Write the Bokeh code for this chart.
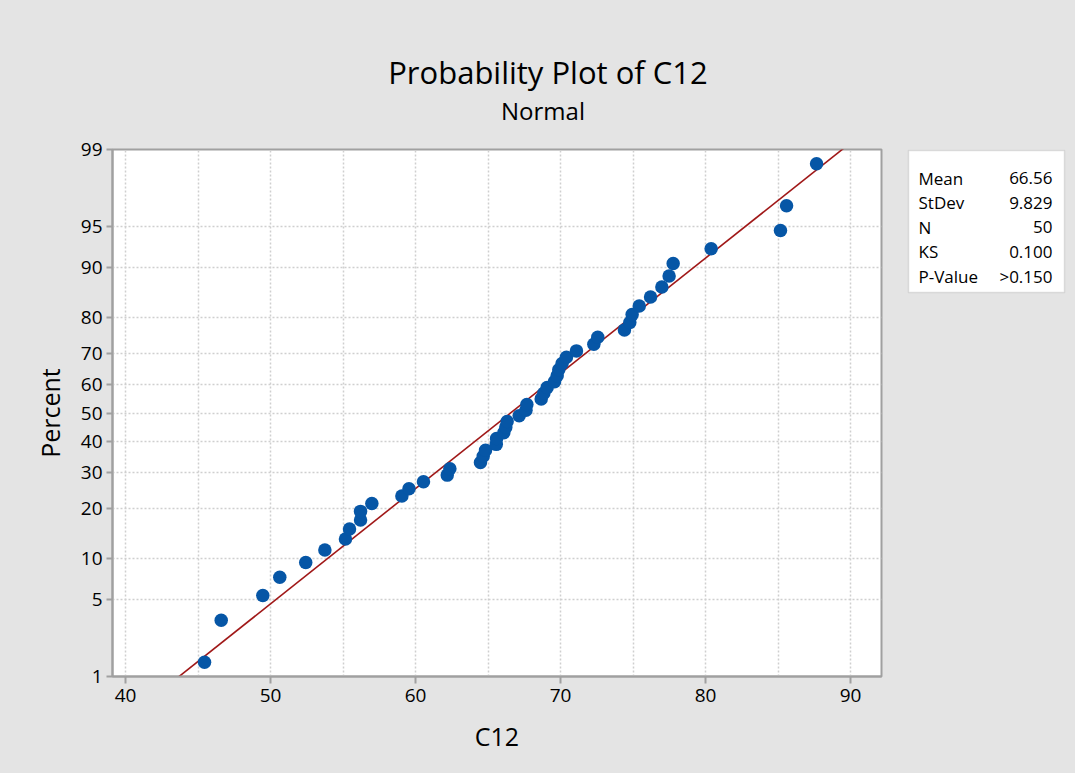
from statistics import NormalDist
from bokeh.plotting import figure
from bokeh.models import Range1d, FixedTicker, Label, BoxAnnotation
from bokeh.layouts import column, row
from bokeh.embed import file_html
from bokeh.resources import INLINE

# ---- data ----
c12_values = [45.45, 46.60, 49.47, 50.64, 52.43, 53.75, 55.17, 55.45, 56.21, 56.21,
              56.99, 59.06, 59.55, 60.55, 62.19, 62.37, 64.48, 64.67, 64.83, 65.57,
              65.59, 66.09, 66.23, 66.32, 67.15, 67.62, 67.68, 68.67, 68.85, 69.08,
              69.59, 69.77, 69.88, 70.11, 70.41, 71.10, 72.30, 72.57, 74.41, 74.78,
              74.94, 75.43, 76.21, 76.99, 77.49, 77.77, 80.39, 85.17, 85.59, 87.66]
percent_values = [1.39, 3.37, 5.36, 7.34, 9.33, 11.31, 13.29, 15.28, 17.26, 19.25,
                  21.23, 23.21, 25.20, 27.18, 29.17, 31.15, 33.13, 35.12, 37.10, 39.09,
                  41.07, 43.06, 45.04, 47.02, 49.01, 50.99, 52.98, 54.96, 56.94, 58.93,
                  60.91, 62.90, 64.88, 66.87, 68.85, 70.83, 72.82, 74.80, 76.79, 78.77,
                  80.75, 82.74, 84.72, 86.71, 88.69, 90.67, 92.66, 94.64, 96.63, 98.61]
y_tick_percents = [1, 5, 10, 20, 30, 40, 50, 60, 70, 80, 90, 95, 99]
x_tick_values = [40, 50, 60, 70, 80, 90]
x_grid_values = [40, 45, 50, 55, 60, 65, 70, 75, 80, 85, 90]
stat_names = ["Mean", "StDev", "N", "KS", "P-Value"]
stat_values = ["66.56", "9.829", "50", "0.100", ">0.150"]
fit_mean = 66.56
fit_sd = 9.829
fit_percent_ends = [0.5, 99.5]
title_text = "Probability Plot of C12"
subtitle_text = "Normal"
x_label = "C12"
y_label = "Percent"

nd = NormalDist()
zf = lambda p: nd.inv_cdf(p / 100.0)
z_points = [zf(p) for p in percent_values]
fit_z = [zf(p) for p in fit_percent_ends]
fit_x = [fit_mean + fit_sd * z for z in fit_z]

# ---- geometry ----
W, H = 1075, 773
TOP_H = 130
MAIN_W = 900
FL, FT, FR, FB = 112, 149, 881, 676  # frame edges (overall px)
x0 = 40 + (FL - 125) / 14.5
x1 = x0 + (FR - FL) / 14.5
y0, y1 = zf(1), zf(99)

BG = "#e4e4e4"
AX = "#a0a0a0"
FONT = "Open Sans"
BLACK = "#000000"


def blank_fig(w, h, xr, yr, **kw):
    f = figure(width=w, height=h, output_backend="svg", toolbar_location=None,
               x_range=xr, y_range=yr, x_axis_type=None, y_axis_type=None, **kw)
    f.border_fill_color = BG
    f.background_fill_color = BG
    f.outline_line_color = None
    return f


# ---- title strip ----
top = blank_fig(W, TOP_H, Range1d(0, W), Range1d(TOP_H, 0),
                min_border_left=0, min_border_right=0, min_border_top=0, min_border_bottom=0)
top.add_layout(Label(x=547.5, y=71, text=title_text, text_align="center",
                     text_baseline="alphabetic", text_font=FONT, text_font_size="31px",
                     text_color=BLACK))
top.add_layout(Label(x=542.5, y=110, text=subtitle_text, text_align="center",
                     text_baseline="alphabetic", text_font=FONT, text_font_size="24px",
                     text_color=BLACK))

# ---- main probability plot ----
MAIN_H = H - TOP_H
BT = FT - TOP_H
BB = MAIN_H - (FB - TOP_H)
p = figure(width=MAIN_W, height=MAIN_H, output_backend="svg", toolbar_location=None,
           x_range=Range1d(x0, x1), y_range=Range1d(y0, y1),
           min_border_left=FL, min_border_right=MAIN_W - FR,
           min_border_top=BT, min_border_bottom=BB)
p.background_fill_color = "white"
p.border_fill_color = BG
p.outline_line_color = AX
p.outline_line_width = 2

for ax in (p.xaxis[0], p.yaxis[0]):
    ax.axis_line_color = AX
    ax.axis_line_width = 2
    ax.major_tick_line_color = AX
    ax.major_tick_line_width = 2
    ax.major_tick_in = 0
    ax.minor_tick_line_color = None
    ax.major_label_text_font = FONT
    ax.major_label_text_font_size = "19px"
    ax.major_label_text_color = BLACK
    ax.axis_label_text_font = FONT
    ax.axis_label_text_font_style = "normal"
    ax.axis_label_text_color = BLACK
    ax.axis_label_text_font_size = "25px"

p.xaxis.ticker = FixedTicker(ticks=x_tick_values)
p.xaxis.major_tick_out = 7
p.xaxis.major_label_standoff = 5
p.xaxis.axis_label = x_label
p.xaxis.axis_label_standoff = 14

y_ticks = [zf(v) for v in y_tick_percents]
p.yaxis.ticker = FixedTicker(ticks=y_ticks)
p.yaxis.major_label_overrides = {t: str(v) for t, v in zip(y_ticks, y_tick_percents)}
p.yaxis.major_tick_out = 6
p.yaxis.major_label_standoff = 4
p.yaxis.axis_label = y_label
p.yaxis.axis_label_standoff = 11

p.xgrid.ticker = FixedTicker(ticks=x_grid_values)
for g in (p.xgrid[0], p.ygrid[0]):
    g.grid_line_color = "#cfcfcf"
    g.grid_line_dash = "2 2"
    g.grid_line_width = 1.5

p.line(fit_x, fit_z, line_color="#a01818", line_width=1.6)
p.scatter(c12_values, z_points, size=13.5, fill_color="#0656a6", line_color=None)

# ---- statistics box (frame aligned with the main frame, grey background) ----
BX0, BX1, BY0, BY1 = 908, 1064, 149, 292
SW = W - MAIN_W
s = blank_fig(SW, MAIN_H, Range1d(MAIN_W, W), Range1d(FB, FT),
              min_border_left=0, min_border_right=0,
              min_border_top=BT, min_border_bottom=BB)
s.add_layout(BoxAnnotation(left=BX0, right=BX1, top=BY0 + 1, bottom=BY1,
                           fill_color="white", fill_alpha=1.0, line_color=AX,
                           line_width=1.5))
for i, (n, v) in enumerate(zip(stat_names, stat_values)):
    yb = 177.5 + 24.5 * i
    s.add_layout(Label(x=918, y=yb, text=n, text_align="left",
                       text_baseline="alphabetic", text_font=FONT,
                       text_font_size="17px", text_color=BLACK))
    s.add_layout(Label(x=1052, y=yb, text=v, text_align="right",
                       text_baseline="alphabetic", text_font=FONT,
                       text_font_size="17px", text_color=BLACK))

layout = column(top, row(p, s, spacing=0, background=BG), spacing=0, background=BG)
open("out.html", "w").write(file_html(layout, INLINE))
